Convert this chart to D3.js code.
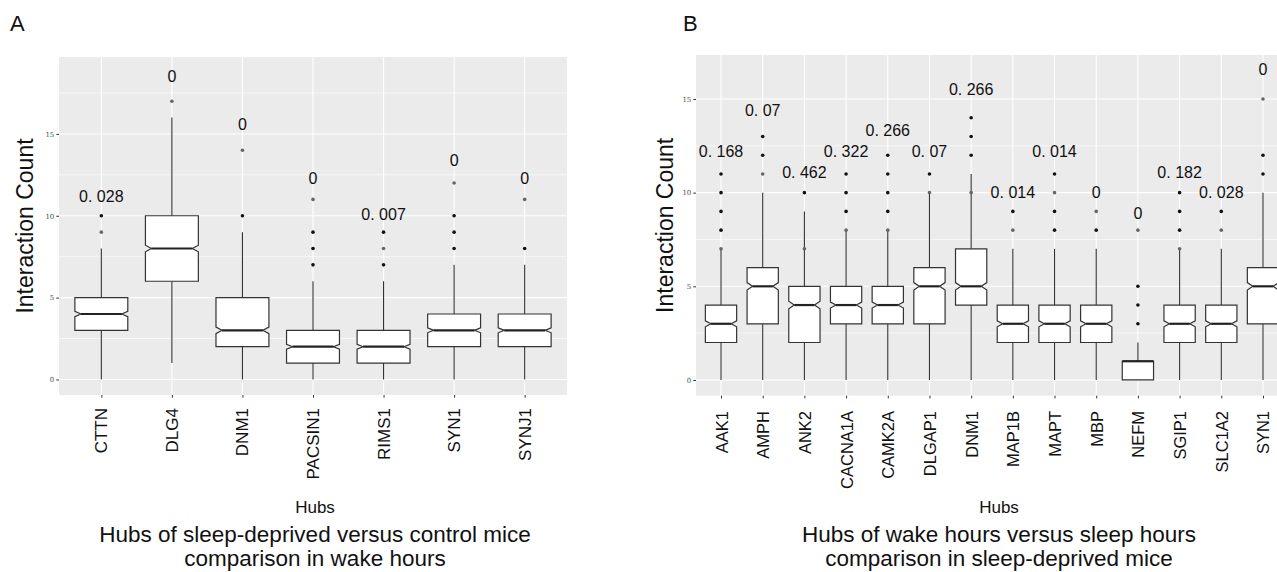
<!DOCTYPE html>
<html><head><meta charset="utf-8">
<script src="https://cdn.jsdelivr.net/npm/d3@7"></script>
<style>
body{margin:0;background:#fff;overflow:hidden}
text{font-family:"Liberation Sans",Arial,Helvetica,sans-serif}
</style>
</head><body>
<svg id="c" width="1277" height="572" style="display:block;overflow:hidden"></svg>
<script>
// ---------- Panel A data ----------
const hubsA   = ["CTTN","DLG4","DNM1","PACSIN1","RIMS1","SYN1","SYNJ1"];
const loA     = [0, 1, 0, 0, 0, 0, 0];
const q1A     = [3, 6, 2, 1, 1, 2, 2];
const medA    = [4, 8, 3, 2, 2, 3, 3];
const q3A     = [5, 10, 5, 3, 3, 4, 4];
const hiA     = [8, 16, 9, 6, 6, 7, 7];
const notchA  = [0.16, 0.2, 0.2, 0.15, 0.15, 0.15, 0.15];
const outBlackA = [[10], [], [10], [7, 8, 9], [7, 9], [8, 9, 10], [8]];
const outGreyA  = [[9], [17], [14], [11], [8], [12], [11]];
const pLabelA   = ["0. 028","0","0","0","0. 007","0","0"];
const pLabelYA  = [11.2, 18.5, 15.6, 12.3, 10.05, 13.4, 12.3];

// ---------- Panel B data ----------
const hubsB   = ["AAK1","AMPH","ANK2","CACNA1A","CAMK2A","DLGAP1","DNM1","MAP1B","MAPT","MBP","NEFM","SGIP1","SLC1A2","SYN1"];
const loB     = [0, 0, 0, 0, 0, 0, 0, 0, 0, 0, 1, 0, 0, 0];
const q1B     = [2, 3, 2, 3, 3, 3, 4, 2, 2, 2, 0, 2, 2, 3];
const medB    = [3, 5, 4, 4, 4, 5, 5, 3, 3, 3, 1, 3, 3, 5];
const q3B     = [4, 6, 5, 5, 5, 6, 7, 4, 4, 4, 1, 4, 4, 6];
const hiB     = [7, 10, 9, 8, 8, 10, 11, 7, 7, 7, 2, 7, 7, 10];
const notchB  = [0.16, 0.2, 0.2, 0.16, 0.16, 0.2, 0.2, 0.16, 0.16, 0.16, 0, 0.16, 0.16, 0.2];
const outBlackB = [[8,9,10,11],[12,13],[10],[9,10,11],[9,10,11,12],[11],[12,13,14],[9],[8,9,11],[8],[3,4,5],[8,9,10],[9],[11,12]];
const outGreyB  = [[7],[11],[7],[8],[8],[10],[10],[8],[10],[9],[8],[7],[8],[15]];
const pLabelB   = ["0. 168","0. 07","0. 462","0. 322","0. 266","0. 07","0. 266","0. 014","0. 014","0","0","0. 182","0. 028","0"];
const pLabelYB  = [12.2, 14.4, 11.07, 12.2, 13.3, 12.2, 15.5, 10.0, 12.2, 10.0, 8.9, 11.1, 10.0, 16.6];

const yTicks = [0, 5, 10, 15];
const yMinor = [2.5, 7.5, 12.5, 17.5];

const svg = d3.select("#c");

function drawPanel(cfg, d) {
  const g = svg.append("g");
  const x = d3.scalePoint().domain(d.hubs).range([cfg.left, cfg.right]).padding(0.6);
  const y = d3.scaleLinear().domain(cfg.yDomain).range([cfg.bottom, cfg.top]);
  const step = x.step();
  const bw = step * 0.75;

  g.append("rect").attr("x", cfg.left).attr("y", cfg.top)
    .attr("width", cfg.right - cfg.left).attr("height", cfg.bottom - cfg.top)
    .attr("fill", "#ebebeb");
  g.selectAll(".mn").data(yMinor.filter(v => v > cfg.yDomain[0] && v < cfg.yDomain[1])).join("line")
    .attr("x1", cfg.left).attr("x2", cfg.right)
    .attr("y1", v => y(v)).attr("y2", v => y(v))
    .attr("stroke", "#fff").attr("stroke-width", 0.6);
  g.selectAll(".mj").data(yTicks).join("line")
    .attr("x1", cfg.left).attr("x2", cfg.right)
    .attr("y1", v => y(v)).attr("y2", v => y(v))
    .attr("stroke", "#fff").attr("stroke-width", 1.1);
  g.selectAll(".vg").data(d.hubs).join("line")
    .attr("x1", h => x(h)).attr("x2", h => x(h))
    .attr("y1", cfg.top).attr("y2", cfg.bottom)
    .attr("stroke", "#fff").attr("stroke-width", 1.1);

  const ya = g.append("g").attr("transform", `translate(${cfg.left},0)`)
    .call(d3.axisLeft(y).tickValues(yTicks).tickSize(2.7).tickPadding(2));
  ya.select(".domain").remove();
  ya.selectAll(".tick line").attr("stroke", "#333").attr("stroke-width", 1);
  ya.selectAll(".tick text").attr("font-size", 7).attr("fill", "#4d4d4d")
    .style("font-family", "'DejaVu Serif', serif");

  const xa = g.append("g").attr("transform", `translate(0,${cfg.bottom})`)
    .call(d3.axisBottom(x).tickSize(2.7).tickPadding(0));
  xa.select(".domain").remove();
  xa.selectAll(".tick line").attr("stroke", "#333").attr("stroke-width", 1);
  xa.selectAll(".tick text")
    .attr("font-size", cfg.xFont).attr("fill", "#111")
    .attr("text-anchor", "end").attr("dy", null).attr("y", 0)
    .attr("transform", `translate(0,${cfg.xLabelTop - cfg.bottom}) rotate(-90)`)
    .attr("dominant-baseline", "central");

  d.hubs.forEach((h, i) => {
    const cx = x(h), x0 = cx - bw / 2, x1 = cx + bw / 2;
    const n = d.notch[i];
    const ins = n > 0 ? cfg.inset : 0;
    g.append("line").attr("x1", cx).attr("x2", cx)
      .attr("y1", y(d.q3[i])).attr("y2", y(d.hi[i]))
      .attr("stroke", "#333").attr("stroke-width", 1.1);
    g.append("line").attr("x1", cx).attr("x2", cx)
      .attr("y1", y(d.q1[i])).attr("y2", y(d.lo[i]))
      .attr("stroke", "#333").attr("stroke-width", 1.1);
    let pts;
    if (n > 0) {
      pts = [[x0, y(d.q1[i])], [x0, y(d.med[i] - n)], [x0 + ins, y(d.med[i])], [x0, y(d.med[i] + n)],
             [x0, y(d.q3[i])], [x1, y(d.q3[i])], [x1, y(d.med[i] + n)], [x1 - ins, y(d.med[i])],
             [x1, y(d.med[i] - n)], [x1, y(d.q1[i])]];
    } else {
      pts = [[x0, y(d.q1[i])], [x0, y(d.q3[i])], [x1, y(d.q3[i])], [x1, y(d.q1[i])]];
    }
    g.append("path").attr("d", d3.line()(pts) + "Z")
      .attr("fill", "#fff").attr("stroke", "#333").attr("stroke-width", 1.2);
    g.append("line").attr("x1", x0 + ins).attr("x2", x1 - ins)
      .attr("y1", y(d.med[i])).attr("y2", y(d.med[i]))
      .attr("stroke", "#222").attr("stroke-width", 2.2);
    d.outB[i].forEach(v => g.append("circle").attr("cx", cx).attr("cy", y(v)).attr("r", 1.8).attr("fill", "#111"));
    d.outG[i].forEach(v => g.append("circle").attr("cx", cx).attr("cy", y(v)).attr("r", 1.8).attr("fill", "#666"));
    g.append("text").attr("x", cx).attr("y", y(d.pY[i]))
      .attr("text-anchor", "middle").attr("dominant-baseline", "central")
      .attr("font-size", cfg.pFont).attr("fill", "#111").text(d.pLab[i]);
  });

  g.append("text").attr("x", cfg.letterX).attr("y", 31).attr("font-size", 22).attr("fill", "#111").text(cfg.letter);
  g.append("text").attr("transform", `translate(${cfg.yTitleX},${(cfg.top + cfg.bottom) / 2}) rotate(-90)`)
    .attr("text-anchor", "middle").attr("font-size", 23).attr("fill", "#111").text("Interaction Count");
  g.append("text").attr("x", cfg.titleX).attr("y", 513).attr("text-anchor", "middle")
    .attr("font-size", 17).attr("fill", "#111").text("Hubs");
  cfg.caption.forEach((line, k) => {
    g.append("text").attr("x", cfg.titleX).attr("y", 542 + k * 24).attr("text-anchor", "middle")
      .attr("font-size", 22.5).attr("fill", "#111").text(line);
  });
}

drawPanel({
  left: 59, right: 567, top: 57, bottom: 395, yDomain: [-0.95, 19.7],
  xFont: 17, pFont: 16, inset: 6, xLabelTop: 408,
  letter: "A", letterX: 10, yTitleX: 33, titleX: 315,
  caption: ["Hubs of sleep-deprived versus control mice", "comparison in wake hours"]
}, {hubs: hubsA, lo: loA, q1: q1A, med: medA, q3: q3A, hi: hiA, notch: notchA,
    outB: outBlackA, outG: outGreyA, pLab: pLabelA, pY: pLabelYA});

drawPanel({
  left: 696, right: 1288, top: 55, bottom: 395.7, yDomain: [-0.84, 17.35],
  xFont: 16.5, pFont: 16, inset: 5.5, xLabelTop: 411,
  letter: "B", letterX: 683, yTitleX: 673, titleX: 999,
  caption: ["Hubs of wake hours versus sleep hours", "comparison in sleep-deprived mice"]
}, {hubs: hubsB, lo: loB, q1: q1B, med: medB, q3: q3B, hi: hiB, notch: notchB,
    outB: outBlackB, outG: outGreyB, pLab: pLabelB, pY: pLabelYB});
</script>
</body></html>
